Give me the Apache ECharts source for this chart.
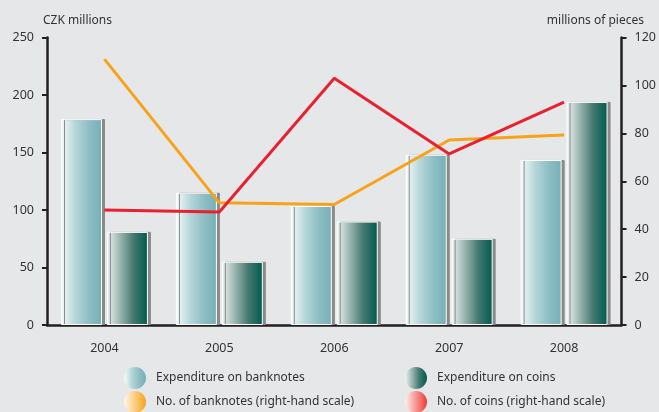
<!DOCTYPE html>
<html>
<head>
<meta charset="utf-8">
<script src="https://cdn.jsdelivr.net/npm/echarts@6/dist/echarts.min.js"></script>
<style>
html,body{margin:0;padding:0;background:#e6e7e9;}
#chart{width:659px;height:412px;}
</style>
</head>
<body>
<div id="chart"></div>
<script>
const categories = ['2004', '2005', '2006', '2007', '2008'];
const expBanknotes = [179, 115, 103.5, 148, 143.5];
const expCoins = [81, 55, 90, 75, 194];
const numBanknotes = [111, 51, 50.3, 77.2, 79.3];
const numCoins = [48, 47.2, 103, 71.4, 93];
const leftTicks = [0, 250, 50];
const rightTicks = [0, 120, 20];
const names = ['Expenditure on banknotes', 'Expenditure on coins', 'No. of banknotes (right-hand scale)', 'No. of coins (right-hand scale)'];

const FONT = 'Noto Sans';
const TXT = '#333333';
const AX = '#231f20';

function grad(stops) {
  return new echarts.graphic.LinearGradient(0, 0, 1, 0, stops.map((c) => ({offset: c[0], color: c[1]})));
}
const gNotes = grad([[0, '#f6fbfb'], [0.35, '#b5d6d9'], [0.7, '#8cbdc3'], [1, '#76afb6']]);
const gCoins = grad([[0, '#eef3f2'], [0.3, '#9fb9b4'], [0.65, '#44786f'], [1, '#005a4d']]);
const gOrange = grad([[0, '#fff6e8'], [1, '#f7a21b']]);
const gRed = grad([[0, '#fff0ee'], [1, '#ee3b38']]);

const chart = echarts.init(document.getElementById('chart'));

function legendAt(name, left, top, color) {
  return {
    data: [{name: name, icon: 'circle', itemStyle: {color: color, borderWidth: 0}}],
    left: left, top: top, itemWidth: 32, itemHeight: 22, padding: 0,
    selectedMode: false,
    textStyle: {fontFamily: FONT, fontSize: 12, color: TXT}
  };
}

const barItem = (g) => ({
  color: g, borderColor: '#ffffff', borderWidth: 1,
  shadowColor: '#8a8a8a', shadowOffsetX: 3, shadowOffsetY: 0, shadowBlur: 0
});

chart.setOption({
  backgroundColor: '#e6e7e9',
  animation: false,
  title: [
    {text: 'CZK millions', left: 43, top: 15, padding: 0,
     textStyle: {fontFamily: FONT, fontSize: 12, fontWeight: 'normal', color: TXT}},
    {text: 'millions of pieces', right: 15, top: 15, padding: 0,
     textStyle: {fontFamily: FONT, fontSize: 12, fontWeight: 'normal', color: TXT}}
  ],
  legend: [
    legendAt(names[0], 124, 367, gNotes),
    legendAt(names[1], 405, 367, gCoins),
    legendAt(names[2], 124, 391, gOrange),
    legendAt(names[3], 405, 391, gRed)
  ],
  grid: {left: 47, right: 37, top: 37.5, bottom: 87, containLabel: false},
  xAxis: {
    type: 'category', data: categories, boundaryGap: true,
    axisLine: {lineStyle: {color: AX, width: 2.5}},
    axisTick: {show: false},
    axisLabel: {fontFamily: FONT, fontSize: 12.5, color: TXT, margin: 17}
  },
  yAxis: [
    {type: 'value', min: leftTicks[0], max: leftTicks[1], interval: leftTicks[2], position: 'left',
     axisLine: {show: true, lineStyle: {color: AX, width: 2.5}},
     axisTick: {show: true, length: 5, lineStyle: {color: AX, width: 2}},
     splitLine: {show: false},
     axisLabel: {fontFamily: FONT, fontSize: 12.5, color: TXT, margin: 13}},
    {type: 'value', min: rightTicks[0], max: rightTicks[1], interval: rightTicks[2], position: 'right',
     axisLine: {show: true, lineStyle: {color: AX, width: 2.5}},
     axisTick: {show: true, length: 5, lineStyle: {color: AX, width: 2}},
     splitLine: {show: false},
     axisLabel: {fontFamily: FONT, fontSize: 12.5, color: TXT, margin: 13}}
  ],
  series: [
    {name: names[0], type: 'bar', yAxisIndex: 0, data: expBanknotes, barWidth: 41, barGap: '12%',
     itemStyle: barItem(gNotes)},
    {name: names[1], type: 'bar', yAxisIndex: 0, data: expCoins, barWidth: 41, barGap: '12%',
     itemStyle: barItem(gCoins)},
    {name: names[2], type: 'line', yAxisIndex: 1, data: numBanknotes, symbol: 'none',
     lineStyle: {color: '#f7a21b', width: 3}, itemStyle: {color: '#f7a21b'}, z: 5},
    {name: names[3], type: 'line', yAxisIndex: 1, data: numCoins, symbol: 'none',
     lineStyle: {color: '#e8202f', width: 3}, itemStyle: {color: '#e8202f'}, z: 6}
  ]
});
</script>
</body>
</html>
